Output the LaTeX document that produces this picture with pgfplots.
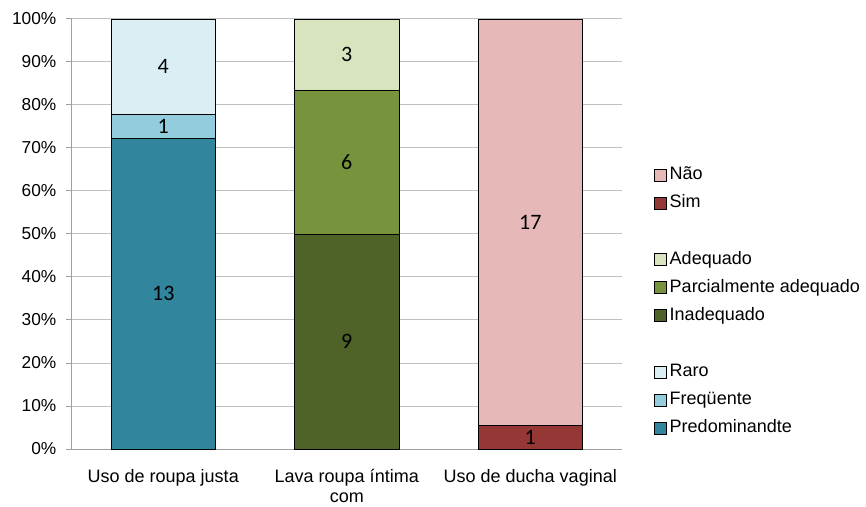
\documentclass[border=0pt]{standalone}
\usepackage{fontspec}
\setmainfont{Liberation Sans}
\newfontfamily\carlito{Carlito}
\usepackage{pgfplots}
\pgfplotsset{compat=1.18}
\definecolor{predc}{HTML}{31859C}
\definecolor{freqc}{HTML}{93CDDD}
\definecolor{raroc}{HTML}{DAEEF3}
\definecolor{inadc}{HTML}{4F6228}
\definecolor{parcc}{HTML}{77933C}
\definecolor{adeqc}{HTML}{D7E4BD}
\definecolor{simc}{HTML}{953735}
\definecolor{naoc}{HTML}{E6B9B8}
\definecolor{gridgray}{HTML}{BFBFBF}
\definecolor{axisgray}{HTML}{A0A0A0}
\newcommand{\xs}{\rule{0pt}{17pt}}
\begin{document}
\begin{tikzpicture}[x=1pt,y=1pt]
\path[use as bounding box] (0,0) rectangle (866,506);
\begin{axis}[
  at={(71.5pt,57pt)}, anchor=south west,
  scale only axis, width=550.5pt, height=430pt,
  xmin=-0.5, xmax=2.5, ymin=0, ymax=100,
  axis x line*=bottom, axis y line*=left,
  axis line style={draw=axisgray, line width=1pt},
  ytick={0,10,...,100},
  yticklabel={\pgfmathprintnumber{\tick}\%},
  /pgf/number format/assume math mode=true,
  ymajorgrids, grid style={draw=gridgray, line width=1pt},
  xtick={0,1,2},
  xticklabels={\xs Uso de roupa justa, {\xs Lava roupa íntima\\com}, \xs Uso de ducha vaginal},
  xtick style={draw=none},
  ytick style={draw=axisgray, line width=1pt},
  tick align=outside, major tick length=5pt,
  yticklabel style={font=\fontsize{17.3}{20}\selectfont, inner sep=0pt, xshift=-10pt},
  xticklabel style={font=\fontsize{18}{20.5}\selectfont, align=center, anchor=north, inner sep=0pt, yshift=-11.2pt},
  legend image code/.code={\draw[#1, draw=black, line width=0.6pt] (0pt,-6pt) rectangle (12pt,6pt);},
  legend cell align=left,
  legend style={at={(axis description cs:1.058,0.6567)}, anchor=north west,
    draw=none, fill=none, inner sep=0pt, row sep=11.5pt, column sep=3pt,
    font=\fontsize{18}{20}\selectfont,
    nodes={inner sep=0pt, text height=12.9pt, text depth=3.7pt}},
  sbar/.style={ybar, bar shift=0pt, bar width=104.5pt, draw=black, line width=0.9pt, forget plot},
]
% cumulative shares (percent) for each category, drawn back to front
\addplot[sbar, fill=raroc] coordinates {(0,100)};
\addplot[sbar, fill=freqc] coordinates {(0,77.78)};
\addplot[sbar, fill=predc] coordinates {(0,72.22)};
\addplot[sbar, fill=adeqc] coordinates {(1,100)};
\addplot[sbar, fill=parcc] coordinates {(1,83.33)};
\addplot[sbar, fill=inadc] coordinates {(1,50)};
\addplot[sbar, fill=naoc] coordinates {(2,100)};
\addplot[sbar, fill=simc] coordinates {(2,5.56)};
% data labels (counts) at segment centres
\addplot[forget plot, draw=none, mark=none, nodes near coords, point meta=explicit symbolic,
  nodes near coords style={anchor=center, inner sep=0pt, text=black, font=\carlito\fontsize{22}{22}\selectfont}]
  coordinates {(0,36.11)[13] (0,75)[1] (0,88.89)[4] (1,25)[9] (1,66.67)[6] (1,91.67)[3] (2,2.78)[1] (2,52.78)[17]};
\addlegendimage{fill=naoc}\addlegendentry{Não}
\addlegendimage{fill=simc}\addlegendentry{Sim}
\addlegendimage{empty legend}\addlegendentry{}
\addlegendimage{fill=adeqc}\addlegendentry{Adequado}
\addlegendimage{fill=parcc}\addlegendentry{Parcialmente adequado}
\addlegendimage{fill=inadc}\addlegendentry{Inadequado}
\addlegendimage{empty legend}\addlegendentry{}
\addlegendimage{fill=raroc}\addlegendentry{Raro}
\addlegendimage{fill=freqc}\addlegendentry{Freqüente}
\addlegendimage{fill=predc}\addlegendentry{Predominandte}
\end{axis}
\end{tikzpicture}
\end{document}
